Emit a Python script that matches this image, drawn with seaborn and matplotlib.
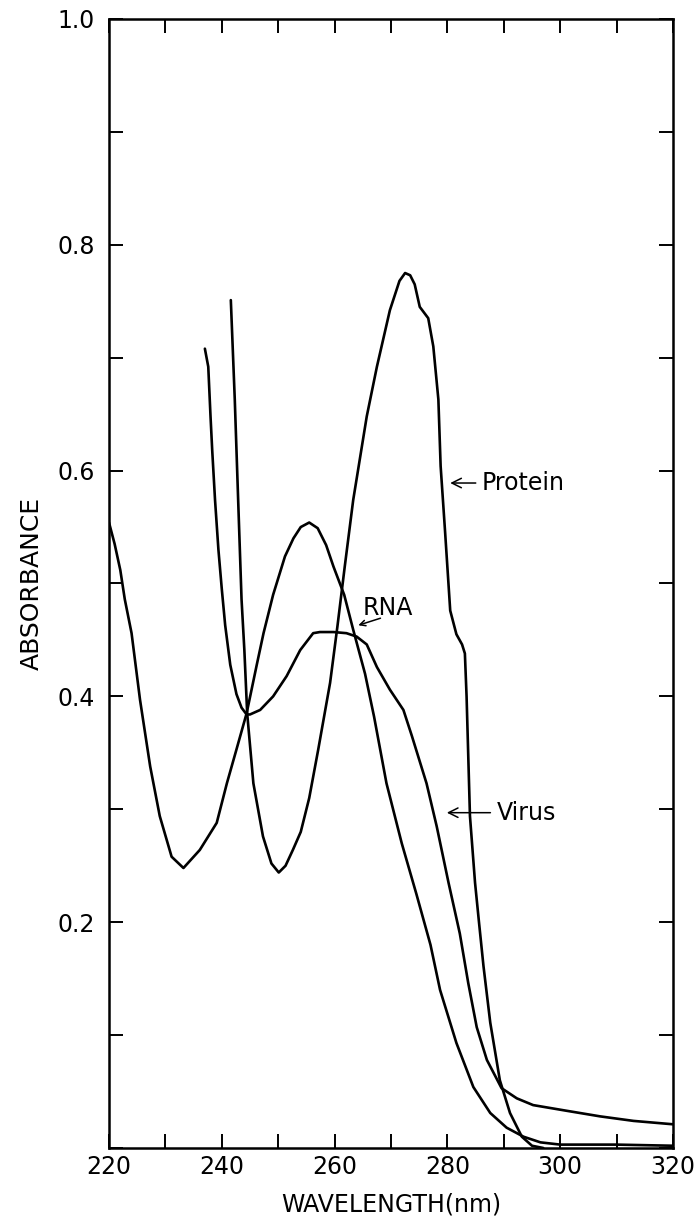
import seaborn as sns
import numpy as np
import matplotlib.pyplot as plt
import pandas as pd
from matplotlib.ticker import MultipleLocator

sns.set_style("ticks")
plt.rcParams["font.family"] = ["DejaVu Sans"]
plt.rcParams["text.color"] = "black"
plt.rcParams["axes.labelcolor"] = "black"
plt.rcParams["lines.solid_joinstyle"] = "round"

# absorbance spectra
protein_wl = [241.6, 242.3, 242.9, 243.5, 244.0, 244.5, 245.6, 247.3, 248.8, 250.1,
              251.3, 252.6, 254.0, 255.5, 257.1, 259.2, 260.5, 261.8, 263.3, 265.7,
              267.5, 269.8, 271.5, 272.5, 273.4, 274.2, 275.1, 276.6, 277.5, 278.4,
              278.8, 279.6, 280.5, 281.6, 282.6, 283.1, 283.4, 284.0, 284.9, 285.6,
              286.4, 287.6, 289.3, 291.1, 293.2, 295.0, 297.0]
protein_abs = [0.751, 0.663, 0.574, 0.486, 0.441, 0.385, 0.323, 0.276, 0.252, 0.244,
               0.250, 0.264, 0.280, 0.310, 0.353, 0.412, 0.462, 0.515, 0.574, 0.648,
               0.692, 0.742, 0.768, 0.775, 0.773, 0.765, 0.745, 0.735, 0.710, 0.663,
               0.604, 0.545, 0.476, 0.455, 0.446, 0.438, 0.400, 0.294, 0.235, 0.200,
               0.161, 0.111, 0.060, 0.031, 0.010, 0.002, 0.0]

rna_wl = [220.0, 221.0, 222.0, 222.8, 224.0, 225.5, 227.3, 229.0, 231.1, 233.2,
          236.1, 239.1, 240.9, 242.6, 244.4, 246.2, 247.4, 249.1, 251.2, 252.7,
          254.0, 255.5, 257.0, 258.5, 259.8, 261.7, 263.3, 265.4, 267.0, 269.2,
          271.9, 274.5, 277.0, 278.7, 281.6, 284.6, 287.6, 290.5, 293.5, 296.5,
          300.0, 310.0, 320.0]
rna_abs = [0.554, 0.535, 0.512, 0.486, 0.456, 0.397, 0.338, 0.294, 0.258, 0.248,
           0.264, 0.288, 0.323, 0.353, 0.385, 0.428, 0.456, 0.490, 0.524, 0.540,
           0.550, 0.554, 0.549, 0.534, 0.515, 0.490, 0.459, 0.420, 0.382, 0.323,
           0.270, 0.225, 0.180, 0.140, 0.093, 0.054, 0.031, 0.018, 0.010, 0.005,
           0.003, 0.003, 0.002]

virus_wl = [237.0, 237.6, 238.0, 238.3, 238.8, 239.4, 240.0, 240.6, 241.5, 242.6,
            243.5, 244.4, 245.0, 246.8, 249.1, 251.5, 253.9, 256.2, 257.4, 259.8,
            262.1, 263.9, 265.7, 267.5, 269.8, 272.2, 273.7, 276.3, 278.1, 280.2,
            282.2, 283.7, 285.2, 287.0, 289.6, 292.3, 295.2, 301.1, 307.1, 313.0,
            320.0]
virus_abs = [0.708, 0.692, 0.648, 0.618, 0.574, 0.530, 0.495, 0.463, 0.428, 0.402,
             0.390, 0.384, 0.384, 0.388, 0.400, 0.418, 0.441, 0.456, 0.457, 0.457,
             0.456, 0.453, 0.446, 0.426, 0.406, 0.388, 0.365, 0.323, 0.285, 0.235,
             0.190, 0.146, 0.107, 0.078, 0.053, 0.044, 0.038, 0.033, 0.028, 0.024,
             0.021]

df = pd.concat([
    pd.DataFrame({"sample": "Protein", "wavelength": protein_wl, "absorbance": protein_abs}),
    pd.DataFrame({"sample": "RNA", "wavelength": rna_wl, "absorbance": rna_abs}),
    pd.DataFrame({"sample": "Virus", "wavelength": virus_wl, "absorbance": virus_abs}),
], ignore_index=True)

fig = plt.figure(figsize=(6.99, 12.26), dpi=100)
ax = fig.add_axes([109 / 699, 1 - 1148 / 1226, 564 / 699, 1129 / 1226])

sns.lineplot(
    data=df, x="wavelength", y="absorbance", hue="sample",
    palette={"Protein": "black", "RNA": "black", "Virus": "black"},
    estimator=None, sort=False, legend=False, lw=1.9, ax=ax,
)

ax.set_xlim(220, 320)
ax.set_ylim(0, 1.0)
ax.set_xticks(np.arange(220, 321, 20))
ax.xaxis.set_minor_locator(MultipleLocator(10))
ax.set_yticks([0.2, 0.4, 0.6, 0.8, 1.0])
ax.set_yticklabels(["0.2", "0.4", "0.6", "0.8", "1.0"])
ax.yaxis.set_minor_locator(MultipleLocator(0.1))
ax.tick_params(which="both", direction="in", length=10, width=1.4,
               top=True, right=True, colors="black", labelsize=17)
ax.tick_params(axis="x", pad=5)
ax.tick_params(axis="y", pad=10)
for s in ax.spines.values():
    s.set_linewidth(1.8)
    s.set_color("black")

ax.set_xlabel("WAVELENGTH(nm)", fontsize=17, labelpad=10)
ax.set_ylabel("ABSORBANCE", fontsize=18, labelpad=10,
              family=["Liberation Sans Narrow", "DejaVu Sans"])

arrow = dict(arrowstyle="->", lw=1.1, color="black", shrinkA=2, shrinkB=0)
ax.annotate("Protein", xy=(280.5, 0.589), xytext=(286.1, 0.589),
            va="center", ha="left", fontsize=17, arrowprops=arrow)
ax.annotate("Virus", xy=(279.9, 0.297), xytext=(288.7, 0.297),
            va="center", ha="left", fontsize=17, arrowprops=arrow)
ax.text(265.0, 0.478, "RNA", va="center", ha="left", fontsize=17)
ax.annotate("", xy=(264.2, 0.463), xytext=(268.6, 0.470), arrowprops=arrow)

fig.savefig("out.png", dpi=100, facecolor="white")
